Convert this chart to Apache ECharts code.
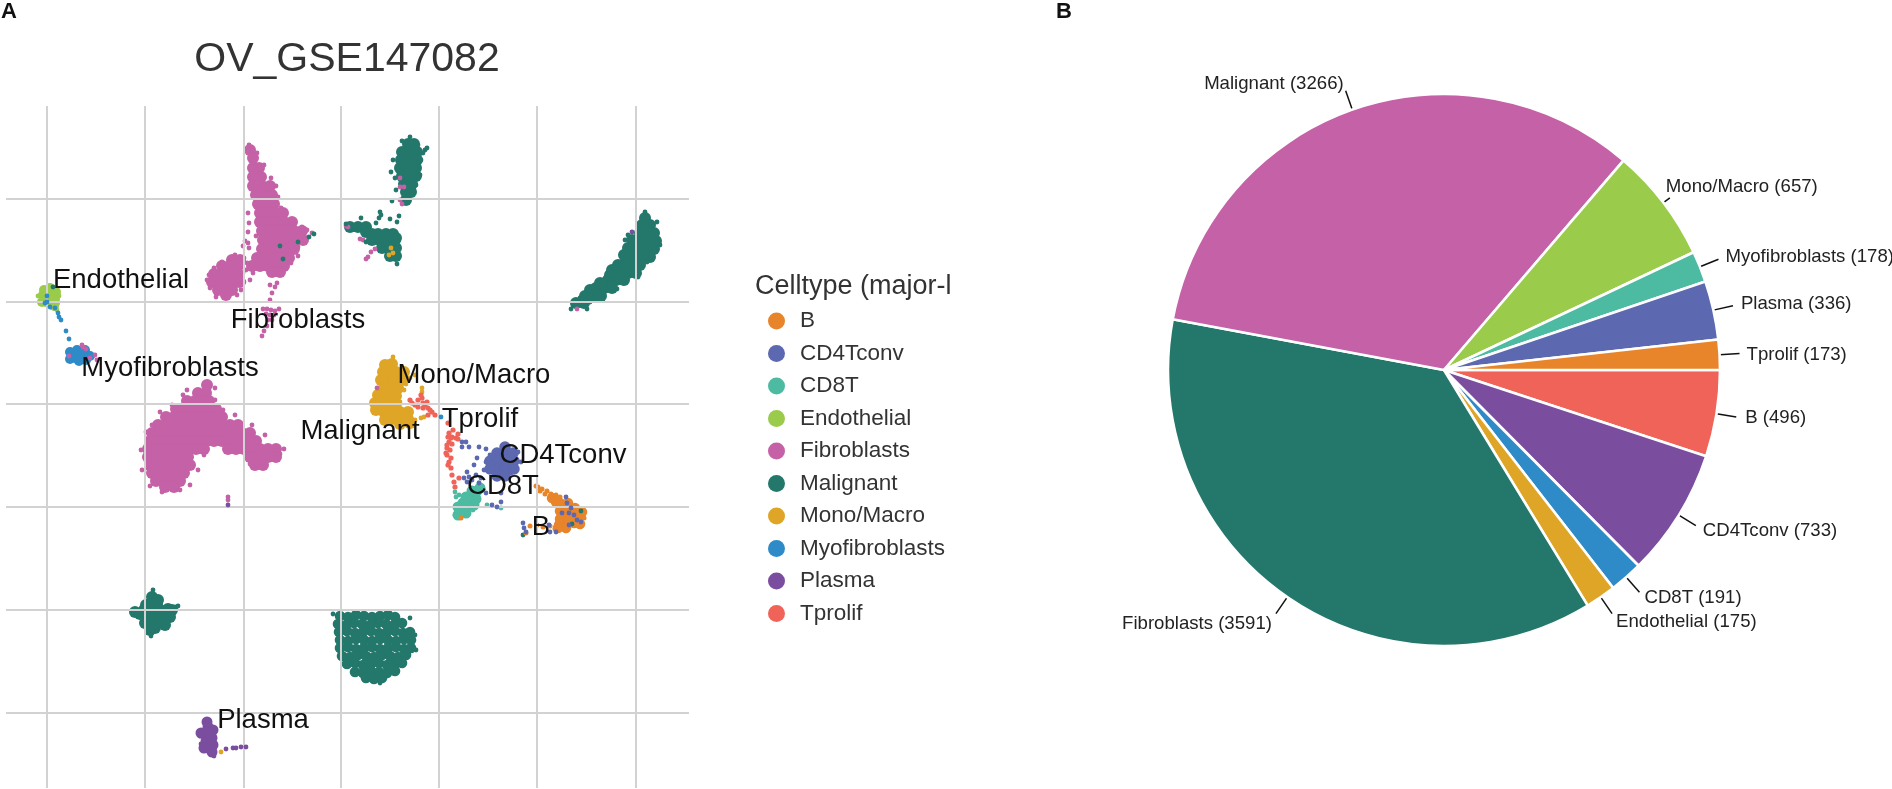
<!DOCTYPE html>
<html><head><meta charset="utf-8"><title>OV_GSE147082</title>
<script src="https://cdn.jsdelivr.net/npm/echarts@6/dist/echarts.min.js"></script>
<style>html,body{margin:0;padding:0;background:#fff}#c{width:1892px;height:789px}</style></head>
<body><div id="c"></div><script>
const cellTypes=['B','CD4Tconv','CD8T','Endothelial','Fibroblasts','Malignant','Mono/Macro','Myofibroblasts','Plasma','Tprolif'];
const umapColors=['#E8842A','#5C68B0','#4CBBA1','#9ACB4B','#C561A6','#23786B','#DFA526','#2F8BC7','#7A4D9F','#EF6359'];
const pieOrder=['B','CD4Tconv','CD8T','Endothelial','Fibroblasts','Malignant','Mono/Macro','Myofibroblasts','Plasma','Tprolif'];
const pieCounts=[496,733,191,175,3591,3266,657,178,336,173];
const pieColors=['#EF6359','#7A4D9F','#2F8BC7','#DFA526','#23786B','#C561A6','#9ACB4B','#4CBBA1','#5C68B0','#E8842A'];
const gridX=[-253,-155,-56,41,139,237,336];
const gridY=[301,198,96,-7,-110,-213];
const labelNames=['Endothelial','Fibroblasts','Myofibroblasts','Mono/Macro','Malignant','Tprolif','CD4Tconv','CD8T','B','Plasma'];
const labelPoints=[[-179,220],[-2,180],[-130,132],[174,125],[60,69],[180,81],[263,45],[203,14],[241,-27],[-37,-220]];

const fibroblastsCore=[[-50,350],[-47,342],[-47,332],[-41,332],[-47,323],[-39,323],[-47,314],[-38,314],[-30,314],[-44,305],[-36,305],[-28,305],[-42,296],[-34,296],[-26,296],[-40,287],[-32,287],[-24,287],[-17,287],[-40,278],[-32,278],[-24,278],[-16,278],[-8,278],[-38,269],[-30,269],[-22,269],[-14,269],[-6,269],[2,269],[-37,260],[-29,260],[-21,260],[-13,260],[-5,260],[3,260],[-38,251],[-30,251],[-22,251],[-14,251],[-6,251],[-43,242],[-35,242],[-27,242],[-19,242],[-11,242],[-48,234],[-40,234],[-32,234],[-24,234],[-16,234],[-28,228],[-20,228],[-68,240],[-60,240],[-78,234],[-70,234],[-62,234],[-86,226],[-78,226],[-70,226],[-62,226],[-88,218],[-80,218],[-72,218],[-64,218],[-60,218],[-82,210],[-74,210],[-68,210],[-74,205],
[-93,115],[-102,107],[-94,107],[-113,99],[-105,99],[-97,99],[-91,99],[-124,91],[-116,91],[-108,91],[-100,91],[-92,91],[-84,91],[-134,83],[-126,83],[-118,83],[-110,83],[-102,83],[-94,83],[-86,83],[-78,83],[-142,75],[-134,75],[-126,75],[-118,75],[-110,75],[-102,75],[-94,75],[-86,75],[-78,75],[-70,75],[-62,75],[-148,67],[-140,67],[-132,67],[-124,67],[-116,67],[-108,67],[-100,67],[-92,67],[-84,67],[-76,67],[-66,67],[-58,67],[-50,67],[-150,59],[-142,59],[-134,59],[-126,59],[-118,59],[-110,59],[-102,59],[-94,59],[-86,59],[-78,59],[-70,59],[-60,59],[-52,59],[-44,59],[-152,51],[-144,51],[-136,51],[-128,51],[-120,51],[-112,51],[-104,51],[-96,51],[-72,51],[-64,51],[-56,51],[-48,51],[-40,51],[-32,51],[-24,51],[-152,43],[-144,43],[-136,43],[-128,43],[-120,43],[-112,43],[-50,43],[-42,43],[-32,43],[-24,43],[-150,35],[-142,35],[-134,35],[-126,35],[-118,35],[-110,35],[-45,35],[-37,35],[-148,27],[-140,27],[-132,27],[-124,27],[-116,27],[-144,19],[-136,19],[-128,19],[-120,19],[-135,13],[-126,13]];
const fibroblastsEdge=[[-52,287],[-51,277],[-52,268],[-44,264],[-55,259],[-57,254],[-52,257],[-51,252],[-47,227],[-57,227],[-50,220],[-57,217],[-30,215],[-23,217],[-51,355],[-43,347],[-36,335],[-29,322],[-24,314],[-22,303],[-19,292],[-8,278],[2,273],[7,270],[12,267],[-2,253],[-2,244],[-9,237],[-17,230],[-23,227],[-25,213],[-28,207],[-30,200],[-37,191],[-33,191],[-29,190],[-25,189],[-21,191],[-34,186],[-30,185],[-26,185],[-32,180],[-28,180],[-33,174],[-36,169],[-38,164],[-93,220],[-91,225],[-86,232],[-78,238],[-65,245],[-56,242],[-53,237],[-54,230],[-56,218],[-59,210],[-63,205],[-84,203],[-90,212],[-72,3],[-72,0],[-217,153],[-214,151],[-205,145],[-203,140],[-231,144],[-210,142],[-218,155],[46,274],[48,273],[60,261],[63,260],[75,251],[71,248],[68,243],[66,241],[100,322],[100,313],[104,313],[100,300],[102,296],[77,112],[277,191],[-113,110],[-117,105],[-128,95],[-140,88],[-85,112],[-85,100],[-77,90],[-65,85],[-48,75],[-35,65],[-16,51],[-20,46],[-28,42],[-42,35],[-50,36],[-70,52],[-96,45],[-102,30],[-110,15],[-120,10],[-138,8],[-150,14],[-158,30],[-159,50],[-154,68],[-148,75]];
const malignantCore=[[108,356],[114,356],[102,348],[110,348],[117,348],[101,340],[109,340],[117,340],[100,332],[108,332],[116,332],[102,324],[110,324],[116,324],[104,316],[112,316],[106,308],[111,308],[106,300],[50,273],[58,273],[66,273],[66,268],[72,266],[76,262],[78,266],[86,266],[93,266],[72,260],[80,260],[88,260],[95,260],[96,262],[82,252],[90,252],[96,252],[90,244],[96,244],
[345,282],[342,275],[350,275],[340,267],[348,267],[354,267],[336,259],[344,259],[352,259],[356,259],[332,251],[340,251],[348,251],[354,251],[328,243],[336,243],[344,243],[350,243],[324,235],[332,235],[340,235],[320,227],[328,227],[336,227],[308,220],[316,220],[324,220],[296,212],[304,212],[312,212],[285,204],[293,204],[301,204],[276,197],[284,197],[310,225],[300,217],[318,235],[312,230],[324,245],[328,252],[332,260],[290,210],
[-148,-97],[-150,-104],[-143,-104],[-156,-110],[-148,-110],[-140,-110],[-132,-109],[-160,-114],[-152,-117],[-144,-117],[-136,-115],[-128,-110],[-155,-123],[-147,-124],[-139,-122],[-165,-112],[-130,-117],[-135,-125],[-142,-100],[-154,-105],[-150,-130],[-145,-128]];
const malignantSquare=[[40,-116],[48,-117],[56,-115],[64,-116],[72,-117],[80,-116],[88,-115],[95,-117],[38,-124],[46,-125],[54,-123],[62,-124],[70,-125],[78,-123],[86,-124],[94,-125],[102,-123],[39,-132],[47,-131],[55,-133],[63,-132],[71,-131],[79,-133],[87,-132],[95,-131],[103,-133],[110,-132],[40,-140],[48,-141],[56,-139],[64,-140],[72,-141],[80,-139],[88,-140],[96,-141],[104,-139],[111,-140],[40,-148],[48,-147],[56,-149],[64,-148],[72,-147],[80,-149],[88,-148],[96,-147],[104,-149],[111,-148],[42,-156],[50,-157],[58,-155],[66,-156],[74,-157],[82,-155],[90,-156],[98,-157],[106,-155],[47,-164],[55,-163],[63,-165],[71,-164],[79,-163],[87,-165],[95,-164],[102,-163],[55,-172],[63,-173],[71,-171],[79,-172],[87,-173],[95,-171],[66,-178],[74,-179],[82,-178]];
const malignantEdge=[[125,350],[127,352],[123,347],[93,340],[91,328],[95,322],[96,310],[92,299],[90,281],[99,284],[97,278],[61,282],[80,288],[81,285],[79,282],[76,277],[97,236],[96,241],[66,258],[46,276],[110,363],[102,359],[118,355],[121,340],[120,325],[116,315],[271,191],[273,195],[287,191],[290,198],[280,202],[325,260],[328,265],[345,288],[357,278],[360,255],[347,238],[338,223],[323,217],[317,211],[14,266],[9,263],[-2,258],[-20,254],[-17,241],[281,-11],[272,-24],[223,-35],[-247,213],[-167,-111],[-124,-107],[-122,-106],[-149,-136],[-151,-131],[-147,-90],[-150,-95],[-154,-128],[33,-114],[110,-118],[115,-135],[116,-150],[80,-183]];
const endothelialCore=[[-257,205],[-250,206],[-245,201],[-254,198],[-246,194],[-258,198],[-250,200],[-250,212],[-256,210],[-244,208],[-245,197]];
const endothelialEdge=[[-262,204],[-243,190],[-241,204]];
const myofibroblastsCore=[[-227,146],[-219,147],[-213,145],[-225,142],[-217,142],[-230,148],[-223,150],[-215,150],[-210,144],[-230,141],[-221,139],[-214,140]];
const myofibroblastsEdge=[[-253,204],[-253,198],[-255,197],[-250,193],[-245,192],[-242,187],[-241,183],[-239,180],[-234,169],[-231,161],[141,83]];
const monoCore=[[92,136],[88,128],[96,128],[104,128],[86,120],[94,120],[102,120],[84,112],[92,112],[98,112],[81,104],[89,104],[96,104],[80,96],[88,96],[96,96],[84,88],[92,88],[100,88],[108,88],[92,81],[100,81],[108,81],[76,90],[85,80],[100,76],[110,77],[83,128],[81,120],[85,135],[78,105],[75,97]];
const monoEdge=[[115,125],[110,122],[106,116],[104,110],[74,98],[77,105],[115,80],[121,82],[124,83],[122,112],[122,108],[100,98],[93,143],[88,138],[91,252],[93,247],[89,245],[-79,-252]];
const tprolifEdge=[[110,100],[112,97],[115,95],[118,100],[122,102],[123,97],[127,98],[125,95],[128,92],[132,88],[135,85],[128,85],[118,93],[123,92],[121,105],[130,90],[148,77],[149,67],[152,63],[156,62],[149,58],[147,52],[147,45],[149,38],[151,32],[152,25],[154,18],[155,13],[158,61],[151,62],[148,63],[147,55],[150,50],[146,47],[151,42],[148,35],[159,22],[153,70],[152,56],[158,66]];
const cd4Core=[[205,53],[197,47],[205,47],[213,47],[190,39],[198,39],[206,39],[214,39],[190,31],[198,31],[206,31],[214,31],[197,24],[205,24]];
const cd4Edge=[[177,42],[179,53],[186,51],[174,35],[162,58],[166,58],[169,53],[162,53],[164,22],[167,28],[169,23],[172,20],[167,18],[176,25],[181,22],[201,7],[192,-5],[197,-7],[201,-2],[186,7],[179,17],[211,27],[186,38],[184,30],[190,45],[221,38],[218,48],[266,3],[267,-3],[271,-8],[274,-15],[277,-20],[262,-13],[269,-25],[281,-22],[223,-23],[224,-28],[226,-32],[256,-32],[249,-25],[250,-32],[269,-13]];
const cd8Core=[[161,-9],[169,-5],[163,-3],[170,3],[177,9],[176,1],[164,-11],[158,-7],[158,-15],[166,-13],[174,-5],[166,3],[172,9],[180,12]];
const cd8Edge=[[155,8],[159,5],[156,3],[187,-5],[201,-8],[179,17],[182,10],[176,-5],[155,-15],[167,-14],[173,-10]];
const bCore=[[260,-3],[268,-3],[275,-8],[266,-11],[274,-15],[280,-16],[274,-23],[266,-22],[259,-25],[252,2],[256,-2],[262,-18],[278,-22],[260,-11],[260,-19],[268,-19],[282,-12],[280,-24],[266,-28],[258,-28]];
const bEdge=[[238,13],[242,11],[247,9],[251,6],[256,5],[260,3],[245,6],[236,14],[240,9],[250,-26],[243,-27],[237,-25],[230,-26],[284,-18],[255,-29],[226,-33],[161,-18]];
const plasmaCore=[[-92,-227],[-94,-234],[-94,-241],[-91,-248],[-88,-252],[-87,-230],[-88,-238],[-96,-248],[-99,-233],[-87,-245],[-93,-222]];
const plasmaEdge=[[-74,-249],[-64,-248],[-59,-247],[-54,-247],[-67,-248],[-72,-5],[-92,-220],[-100,-236],[-99,-244],[-86,-256],[332,268]];

const FONT='"Liberation Sans",Arial,sans-serif';
const pieLabelPads=[[0,0,0,5],[0,0,0,3],[0,0,0,1],[0,0,0,0],[0,0,0,0],[0,0,0,0],[0,0,0,0],[0,0,0,3],[0,0,0,4],[0,0,0,3]];
const pieLabelNudge=[[0,1],[0,5],[0,6],[0,8],[0,10],[2,-7],[-8,-11],[0,-2],[0,-2],[0,1]];
const pieLineLengths=[20,20,20,20,20,20,8,20,20,20];
const colorOf=n=>umapColors[cellTypes.indexOf(n)];
const dots=(name,data,size,z)=>({type:'scatter',name,data,symbolSize:size,z,silent:true,xAxisIndex:0,yAxisIndex:0,itemStyle:{color:colorOf(name),opacity:1},animation:false});
const series=[
 {type:'scatter',name:'grid',data:[],z:1,silent:true,markLine:{silent:true,symbol:'none',animation:false,label:{show:false},lineStyle:{color:'#d2d2d2',width:2,type:'solid'},
  data:[...gridX.map(v=>({xAxis:v})),...gridY.map(v=>({yAxis:v}))]}},
 dots('Fibroblasts',fibroblastsCore,12,3),dots('Malignant',malignantCore,12,3),dots('Malignant',malignantSquare,10.6,3),
 dots('Endothelial',endothelialCore,10,3),dots('Myofibroblasts',myofibroblastsCore,10,3),dots('Mono/Macro',monoCore,12,3),
 dots('CD4Tconv',cd4Core,11.5,3),dots('CD8T',cd8Core,11,3),dots('B',bCore,10.5,3),dots('Plasma',plasmaCore,11,3),
 dots('Fibroblasts',fibroblastsEdge,4.8,4),dots('Malignant',malignantEdge,4.8,4),dots('Endothelial',endothelialEdge,4.8,4),
 dots('Mono/Macro',monoEdge,4.8,4),dots('Tprolif',tprolifEdge,5.2,4),dots('CD8T',cd8Edge,4.8,4),dots('B',bEdge,5,4),
 dots('CD4Tconv',cd4Edge,4.8,5),dots('Myofibroblasts',myofibroblastsEdge,4.8,5),dots('Plasma',plasmaEdge,4.8,5),
 {type:'scatter',name:'labels',z:6,silent:true,symbolSize:1,itemStyle:{color:'rgba(0,0,0,0)',opacity:1},
  data:labelPoints.map((p,i)=>({name:labelNames[i],value:p})),
  label:{show:true,position:'inside',formatter:'{b}',fontFamily:FONT,fontSize:27.5,color:'#111'}},
 {type:'pie',name:'Cell counts',center:[1444,370],radius:[0,276],startAngle:0,clockwise:true,avoidLabelOverlap:false,silent:true,animation:false,z:2,
  data:pieOrder.map((n,i)=>({name:n,value:pieCounts[i],itemStyle:{color:pieColors[i]},label:{padding:pieLabelPads[i]},labelLine:{length:pieLineLengths[i]}})),
  itemStyle:{borderColor:'#fff',borderWidth:2.6},
  label:{show:true,formatter:'{b} ({c})',fontFamily:FONT,fontSize:18.6,color:'#222',distanceToLabelLine:4},
  labelLine:{show:true,length:20,length2:0,lineStyle:{color:'#111',width:1.5}},
  labelLayout:p=>({dx:pieLabelNudge[p.dataIndex][0],dy:pieLabelNudge[p.dataIndex][1]})}
];
const option={
 backgroundColor:'#fff',animation:false,
 title:[
  {text:'OV_GSE147082',left:347,top:39,textAlign:'center',padding:0,textStyle:{fontFamily:FONT,fontSize:41,fontWeight:'normal',color:'#333'}},
  {text:'Celltype (major-l',left:755,top:273,padding:0,textStyle:{fontFamily:FONT,fontSize:27,fontWeight:'normal',color:'#333'}},
  {text:'A',left:1,top:1,padding:0,textStyle:{fontFamily:FONT,fontSize:22,fontWeight:'bold',color:'#111'}},
  {text:'B',left:1056,top:1,padding:0,textStyle:{fontFamily:FONT,fontSize:22,fontWeight:'bold',color:'#111'}}
 ],
 legend:{data:cellTypes,orient:'vertical',left:768,top:309,padding:0,itemWidth:17,itemHeight:17,itemGap:8.5,icon:'circle',selectedMode:false,
  textStyle:{fontFamily:FONT,fontSize:22.5,lineHeight:24,color:'#333',padding:[0,0,0,10]}},
 grid:{left:6,top:106,width:683,height:682},
 xAxis:{type:'value',min:-294,max:389,show:false,splitLine:{show:false}},
 yAxis:{type:'value',min:-288,max:394,show:false,splitLine:{show:false}},
 series
};
echarts.init(document.getElementById('c')).setOption(option);
</script></body></html>
